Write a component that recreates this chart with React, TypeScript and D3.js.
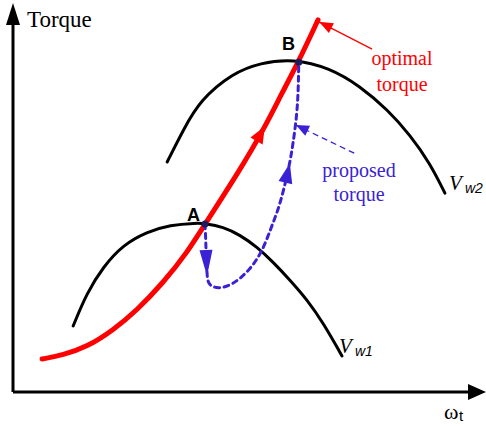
import React from 'react';
import * as d3 from 'd3';

// Curves in normalised units: speed (0–100) vs torque (0–100)
const optimalTorque: [number, number][] = [
  [6.2, 8.6], [10.6, 9.6], [15.7, 11.7], [21.3, 16.1], [26.4, 21.3],
  [31.9, 28.4], [37.0, 36.2], [40.85, 43.75], [48.3, 57.8], [53.6, 69.0],
  [57.0, 77.3], [60.7, 85.9], [64.9, 96.9],
];
const powerCurveVw1: [number, number][] = [
  [12.8, 17.2], [15.7, 25.8], [19.2, 32.6], [23.4, 38.3], [28.5, 41.7],
  [33.4, 43.5], [39.1, 44.0], [40.85, 43.9], [44.7, 43.0], [48.3, 40.9],
  [51.9, 37.8], [55.3, 33.9], [58.9, 29.2], [62.6, 24.0], [66.0, 18.0], [70.0, 9.4],
];
const powerCurveVw2: [number, number][] = [
  [32.8, 59.9], [36.2, 68.2], [39.8, 76.0], [46.8, 83.1], [52.6, 85.7],
  [59.6, 86.8], [67.4, 84.4], [73.8, 79.7], [79.8, 73.4], [84.5, 66.9],
  [88.7, 59.6], [91.9, 51.8],
];
const proposedTorque: [number, number][] = [
  [40.85, 43.75], [41.0, 40.0], [41.06, 37.0], [41.28, 30.5], [41.5, 27.9],
  [43.6, 26.8], [46.8, 27.9], [50.4, 31.8], [53.0, 36.5], [54.9, 42.7],
  [56.4, 47.4], [57.6, 52.6], [58.9, 59.6], [59.6, 64.8], [60.4, 72.1],
  [60.7, 78.7], [60.8, 85.9],
];
const pointA: [number, number] = [40.85, 43.75];
const pointB: [number, number] = [60.8, 85.9];

// Direction arrows along the curves: [tip, point behind the tip]
const redArrow: [number, number][] = [[53.6, 69.2], [48.3, 57.8]];
const blueDownArrow: [number, number][] = [[41.28, 30.2], [41.06, 37.0]];
const blueUpArrow: [number, number][] = [[58.9, 59.6], [57.6, 52.6]];

// Callout leaders: [tail, tip]
const optimalLeader: [number, number][] = [[76.4, 89.3], [65.1, 96.4]];
const proposedLeader: [number, number][] = [[72.6, 62.2], [60.2, 69.5]];

const W = 486;
const H = 426;
const x = d3.scaleLinear().domain([0, 100]).range([13, 483]);
const y = d3.scaleLinear().domain([0, 100]).range([392, 8]);

const RED = '#ff0000';
const BLUE = '#3a22d4';

const smooth = d3
  .line<[number, number]>()
  .x((d) => x(d[0]))
  .y((d) => y(d[1]))
  .curve(d3.curveBasis);

const straight = d3
  .line<[number, number]>()
  .x((d) => x(d[0]))
  .y((d) => y(d[1]));

function head(tx: number, ty: number, fx: number, fy: number, len: number, half: number) {
  const dx = tx - fx;
  const dy = ty - fy;
  const n = Math.hypot(dx, dy) || 1;
  const ux = dx / n;
  const uy = dy / n;
  const bx = tx - ux * len;
  const by = ty - uy * len;
  return `M${tx},${ty}L${bx - uy * half},${by + ux * half}L${bx + uy * half},${by - ux * half}Z`;
}

function dataHead(a: [number, number][], len: number, half: number) {
  return head(x(a[0][0]), y(a[0][1]), x(a[1][0]), y(a[1][1]), len, half);
}

export default function App() {
  const x0 = x(0);
  const y0 = y(0);
  return (
    <svg width={W} height={H} style={{ position: 'absolute', left: 0, top: 0, background: '#fff' }}>
      {/* axes */}
      <line x1={x0} y1={y0} x2={x0} y2={22} stroke="#000" strokeWidth={3} />
      <path d={head(x0, 3, x0, 30, 22, 7)} fill="#000" />
      <line x1={x0} y1={y0} x2={468} y2={y0} stroke="#000" strokeWidth={3} />
      <path d={head(486, y0, 460, y0, 18, 8)} fill="#000" />
      <text x={27} y={27} fontFamily="'Liberation Serif', serif" fontSize={23}>Torque</text>
      <text x={444} y={419} fontFamily="'Liberation Serif', serif" fontSize={22}>ω</text>
      <text x={459} y={421} fontFamily="'Liberation Sans', sans-serif" fontSize={15}>t</text>

      {/* turbine power curves */}
      <path d={smooth(powerCurveVw1) || ''} fill="none" stroke="#000" strokeWidth={3} strokeLinecap="round" />
      <path d={smooth(powerCurveVw2) || ''} fill="none" stroke="#000" strokeWidth={3} strokeLinecap="round" />

      {/* optimal torque trajectory */}
      <path d={smooth(optimalTorque) || ''} fill="none" stroke={RED} strokeWidth={5} strokeLinecap="round" />
      <path d={dataHead(redArrow, 17, 7)} fill={RED} />

      {/* proposed torque trajectory */}
      <path d={smooth(proposedTorque) || ''} fill="none" stroke={BLUE} strokeWidth={3} strokeDasharray="5 4.5" strokeLinecap="round" />
      <path d={dataHead(blueDownArrow, 26, 6.5)} fill={BLUE} />
      <path d={dataHead(blueUpArrow, 20, 7)} fill={BLUE} />

      {/* operating points */}
      <circle cx={x(pointA[0])} cy={y(pointA[1])} r={3.5} fill="#1b1b5e" />
      <circle cx={x(pointB[0])} cy={y(pointB[1])} r={3.5} fill="#1b1b5e" />
      <text x={187} y={221} fontFamily="'Liberation Sans', sans-serif" fontWeight="bold" fontSize={18}>A</text>
      <text x={282} y={50} fontFamily="'Liberation Sans', sans-serif" fontWeight="bold" fontSize={18}>B</text>

      {/* callouts */}
      <path d={straight([optimalLeader[0], optimalLeader[1]]) || ''} stroke={RED} strokeWidth={1.3} fill="none" />
      <path d={dataHead([optimalLeader[1], optimalLeader[0]], 14, 5.5)} fill={RED} />
      <text x={402} y={65} textAnchor="middle" fill={RED} fontFamily="'Liberation Serif', serif" fontSize={20}>optimal</text>
      <text x={402} y={91} textAnchor="middle" fill={RED} fontFamily="'Liberation Serif', serif" fontSize={20}>torque</text>

      <path d={straight([proposedLeader[0], proposedLeader[1]]) || ''} stroke={BLUE} strokeWidth={1.3} strokeDasharray="6 4" fill="none" />
      <path d={dataHead([proposedLeader[1], proposedLeader[0]], 13, 5.5)} fill={BLUE} />
      <text x={359} y={177} textAnchor="middle" fill={BLUE} fontFamily="'Liberation Serif', serif" fontSize={20}>proposed</text>
      <text x={359} y={201} textAnchor="middle" fill={BLUE} fontFamily="'Liberation Serif', serif" fontSize={20}>torque</text>

      {/* wind speed labels */}
      <text x={449} y={190} fontFamily="'Liberation Serif', serif" fontStyle="italic" fontSize={21}>V</text>
      <text x={465} y={193} fontFamily="'Liberation Sans', sans-serif" fontStyle="italic" fontSize={14}>w2</text>
      <text x={339} y={353} fontFamily="'Liberation Serif', serif" fontStyle="italic" fontSize={21}>V</text>
      <text x={355} y={356} fontFamily="'Liberation Sans', sans-serif" fontStyle="italic" fontSize={14}>w1</text>
    </svg>
  );
}
